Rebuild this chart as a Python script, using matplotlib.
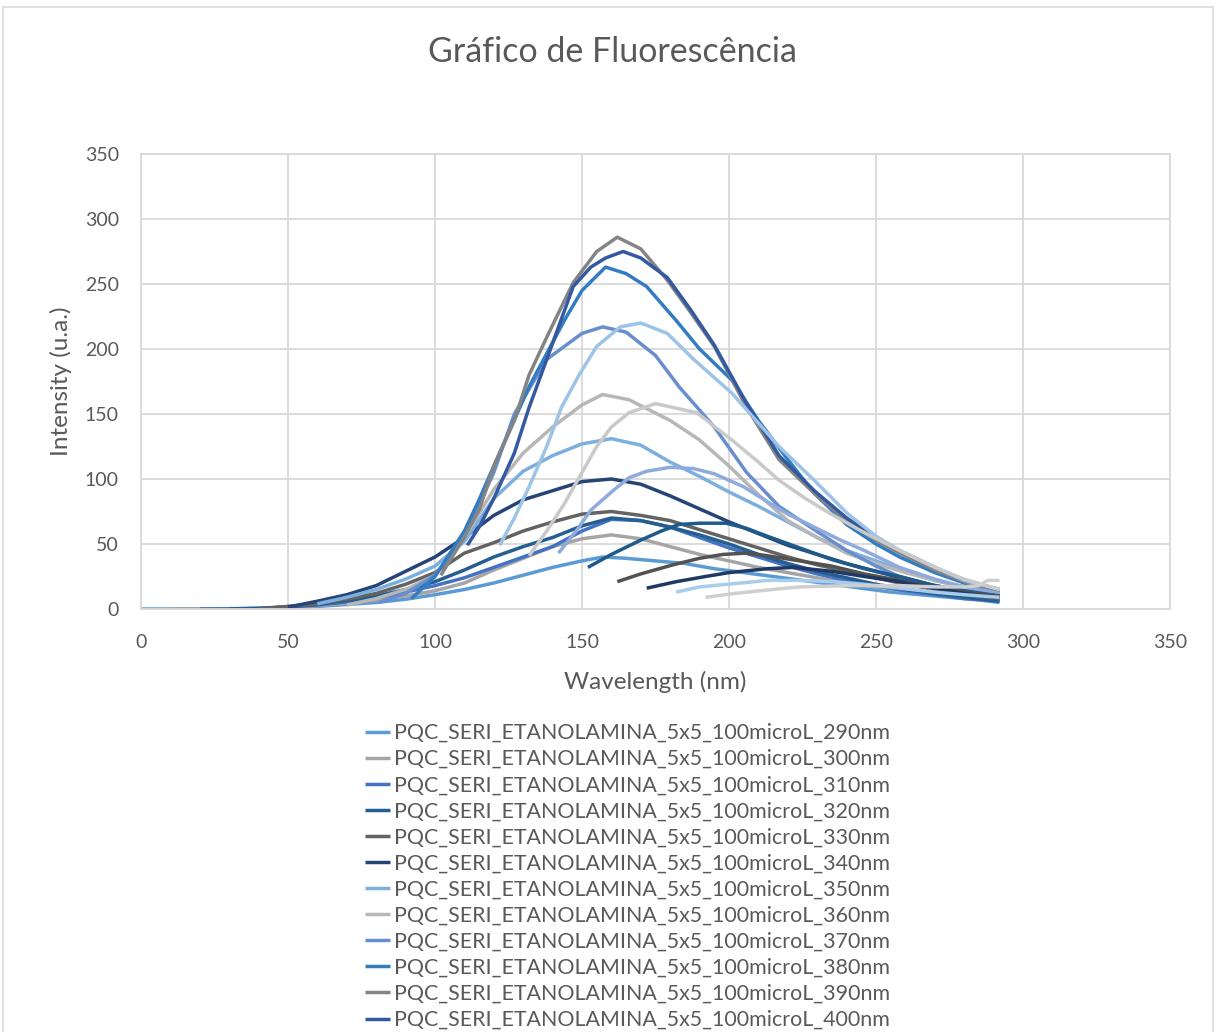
import matplotlib
matplotlib.use('Agg')
import matplotlib.pyplot as plt
from matplotlib.patches import Rectangle

plt.rcParams['font.family'] = ['Lato', 'DejaVu Sans']

# ---- data (x = point index shown on the "Wavelength" axis, y = intensity) ----
wavelengths = list(range(290, 481, 10))
labels = ['PQC_SERI_ETANOLAMINA_5x5_100microL_%dnm' % w for w in wavelengths]
legend_count = 12   # only the first 12 entries are visible in the reference legend

x_290 = [0, 20, 40, 50, 60, 70, 80, 90, 100, 110, 120, 130, 140, 150, 157, 165, 175, 185, 195, 205, 215, 225, 235, 245, 255, 265, 275, 285, 292]
y_290 = [0, 0, 0.3, 1, 2, 3.5, 5, 7.5, 11, 15, 20, 26, 32, 37, 40, 39, 37, 35, 31, 28, 25, 22, 19, 16, 13, 11, 9, 7, 5]

x_300 = [10, 30, 40, 50, 60, 70, 80, 90, 100, 110, 120, 130, 140, 150, 160, 170, 180, 190, 200, 210, 220, 230, 240, 250, 260, 270, 280, 292]
y_300 = [0, 0, 0.3, 1.2, 2.5, 4.5, 7, 10, 14, 20, 30, 39, 48, 54, 57, 54, 48, 42, 37, 32, 28, 24, 20, 17, 14, 12, 10, 7]

x_310 = [20, 40, 50, 60, 70, 80, 90, 100, 110, 120, 130, 140, 150, 160, 170, 180, 190, 200, 210, 220, 230, 240, 250, 260, 270, 280, 292]
y_310 = [0, 0.5, 1.5, 3, 5.5, 8.5, 13, 18, 24, 32, 40, 48, 60, 69, 68, 63, 55, 47, 40, 33, 27, 22, 18, 14, 11, 8, 6]

x_320 = [30, 40, 50, 60, 70, 80, 90, 100, 110, 120, 130, 140, 150, 160, 170, 180, 190, 200, 210, 220, 230, 240, 250, 260, 270, 280, 292]
y_320 = [0, 0.5, 1.8, 3.5, 6.5, 10, 15, 21, 30, 40, 48, 55, 64, 70, 68, 63, 57, 50, 42, 35, 29, 24, 19, 15, 12, 9, 6]

x_330 = [40, 50, 60, 70, 80, 90, 100, 110, 120, 130, 140, 150, 160, 170, 180, 190, 200, 210, 220, 230, 240, 250, 260, 270, 280, 292]
y_330 = [0, 2, 4, 7.5, 12, 19, 28, 43, 51, 60, 67, 73, 75, 72, 68, 61, 54, 47, 40, 34, 29, 24, 19, 15, 11, 8]

x_340 = [50, 60, 70, 80, 90, 100, 110, 120, 130, 140, 150, 160, 170, 180, 190, 200, 210, 220, 230, 240, 250, 260, 270, 280, 292]
y_340 = [1.5, 6, 11, 18, 29, 40, 55, 72, 84, 91, 98, 100, 96, 87, 77, 67, 58, 49, 42, 35, 29, 23, 18, 14, 10]

x_350 = [60, 70, 80, 90, 100, 110, 120, 130, 140, 150, 160, 170, 180, 190, 200, 210, 220, 230, 240, 250, 260, 270, 280, 292]
y_350 = [4, 9, 15, 23, 33, 52, 85, 106, 118, 127, 131, 126, 113, 102, 90, 79, 67, 55, 45, 37, 29, 22, 17, 11]

x_360 = [70, 80, 90, 100, 110, 120, 130, 140, 150, 157, 166, 180, 190, 200, 210, 220, 230, 240, 250, 260, 270, 280, 292]
y_360 = [3, 8, 15, 26, 55, 92, 120, 140, 157, 165, 161, 145, 130, 110, 88, 68, 55, 43, 35, 28, 22, 17, 11]

x_370 = [81, 90, 100, 110, 120, 127, 138, 150, 157, 165, 175, 183, 195, 206, 217, 229, 240, 250, 258, 270, 280, 292]
y_370 = [5, 12, 26, 55, 105, 150, 192, 212, 217, 213, 195, 171, 140, 105, 79, 61, 45, 33, 25, 18, 14, 10]

x_380 = [92, 100, 110, 115, 120, 132, 144, 150, 158, 165, 172, 182, 190, 201, 210, 220, 229, 240, 250, 258, 270, 280, 292]
y_380 = [8, 25, 60, 84, 110, 171, 222, 245, 263, 258, 248, 222, 200, 176, 145, 115, 89, 65, 50, 40, 28, 20, 12]

x_390 = [102, 108, 115, 120, 127, 132, 138, 147, 155, 162, 170, 179, 187, 195, 206, 217, 229, 240, 250, 258, 270, 280, 288, 292]
y_390 = [26, 48, 76, 110, 145, 180, 209, 251, 275, 286, 277, 253, 228, 202, 155, 115, 89, 68, 53, 43, 30, 21, 16, 13]

x_400 = [111, 115, 120, 127, 132, 138, 147, 153, 158, 164, 170, 179, 187, 195, 206, 217, 229, 240, 250, 258, 270, 280, 292]
y_400 = [49, 63, 85, 120, 155, 192, 248, 263, 270, 275, 270, 255, 230, 203, 158, 118, 91, 70, 55, 45, 32, 22, 15]

x_410 = [122, 127, 132, 138, 143, 149, 155, 163, 170, 179, 188, 201, 210, 217, 229, 240, 250, 258, 270, 280, 292]
y_410 = [49, 70, 94, 125, 155, 180, 202, 217, 220, 212, 192, 166, 143, 125, 99, 74, 56, 45, 32, 22, 15]

x_420 = [132, 138, 144, 150, 155, 160, 166, 175, 189, 201, 210, 217, 226, 234, 245, 258, 270, 280, 292]
y_420 = [41, 60, 81, 105, 125, 140, 151, 158, 151, 130, 113, 99, 85, 74, 60, 45, 32, 23, 15]

x_430 = [142, 148, 153, 160, 166, 172, 180, 188, 195, 205, 212, 220, 229, 237, 246, 258, 270, 280, 292]
y_430 = [43, 60, 76, 90, 101, 106, 109, 108, 104, 94, 84, 73, 63, 54, 45, 32, 23, 17, 12]

x_440 = [152, 160, 170, 177, 183, 190, 199, 206, 213, 224, 235, 246, 258, 270, 280, 292]
y_440 = [32, 42, 53, 60, 65, 66, 66, 62, 56, 47, 38, 31, 25, 18, 14, 10]

x_450 = [162, 170, 181, 190, 198, 206, 213, 224, 235, 246, 258, 270, 280, 292]
y_450 = [21, 27, 34, 39, 42, 43, 41, 37, 33, 27, 22, 16, 13, 10]

x_460 = [172, 182, 192, 200, 213, 222, 235, 246, 258, 270, 280, 292]
y_460 = [16, 21, 25, 28, 31, 32, 29, 25, 21, 16, 12, 9]

x_470 = [182, 190, 204, 213, 225, 235, 246, 258, 270, 280, 292]
y_470 = [13, 17, 20, 22, 22, 21, 19, 16, 13, 11, 9]

x_480 = [192, 202, 213, 224, 241, 258, 270, 280, 285, 288, 292]
y_480 = [9, 12, 14.6, 17, 18, 18, 17, 17, 18, 22, 22]

series_x = [x_290, x_300, x_310, x_320, x_330, x_340, x_350, x_360, x_370, x_380,
            x_390, x_400, x_410, x_420, x_430, x_440, x_450, x_460, x_470, x_480]
series_y = [y_290, y_300, y_310, y_320, y_330, y_340, y_350, y_360, y_370, y_380,
            y_390, y_400, y_410, y_420, y_430, y_440, y_450, y_460, y_470, y_480]

colors = ['#5B9BD5', '#A5A5A5', '#4472C4', '#255E91', '#636363', '#264478',
          '#7CAFDD', '#B7B7B7', '#698ED0', '#327DC2', '#848484', '#335AA1',
          '#9DC3E6', '#C9C9C9', '#8FAADC', '#1F5A8C', '#525252', '#203864',
          '#A9CCEB', '#CFCFCF']

# ---- figure ----
W, H = 1216, 1032
fig = plt.figure(figsize=(W / 100, H / 100), dpi=100)
fig.patches.append(Rectangle((3 / W, -0.1), (W - 6) / W, 1.1 - 7 / H, transform=fig.transFigure,
                             fill=False, edgecolor='#D9D9D9', lw=1.2))

ax = fig.add_axes([141 / W, 1 - 609 / H, (1170 - 141) / W, (609 - 154) / H])
for i, (xs, ys, c, lab) in enumerate(zip(series_x, series_y, colors, labels)):
    ax.plot(xs, ys, color=c, lw=2.5, solid_capstyle='butt', solid_joinstyle='round',
            label=lab if i < legend_count else '_nolegend_')

ax.set_xlim(0, 350)
ax.set_ylim(0, 350)
ax.set_xticks(range(0, 351, 50))
ax.set_yticks(range(0, 351, 50))
ax.grid(True, color='#D9D9D9', lw=1.3)
ax.set_axisbelow(True)
for s in ax.spines.values():
    s.set_color('#D9D9D9')
    s.set_linewidth(1.3)
ax.tick_params(length=0, labelsize=14, colors='#595959')
ax.tick_params(axis='x', pad=18)
ax.tick_params(axis='y', pad=16)
ax.set_xlabel('Wavelength (nm)', fontsize=17.5, color='#595959', labelpad=14)
ax.set_ylabel('Intensity (u.a.)', fontsize=17.5, color='#595959', labelpad=9)

fig.text(612 / W, 1 - 52 / H, 'Gráfico de Fluorescência', ha='center', va='center',
         fontsize=24.5, color='#595959')

fig.legend(loc='upper left', bbox_to_anchor=(365 / W, 1 - 723 / H), frameon=False,
           fontsize=15.4, labelcolor='#595959', handlelength=1.15, handletextpad=0.2,
           labelspacing=0.285, borderpad=0, borderaxespad=0)

fig.savefig('out.png', dpi=100)
